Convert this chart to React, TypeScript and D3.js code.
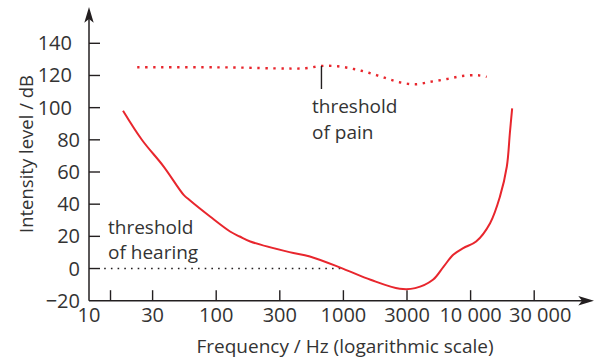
import React from "react";
import * as d3 from "d3";

// ---- data ----
const xTickValues = [10, 30, 100, 300, 1000, 3000, 10000, 30000];
const xTickLabels = ["10", "30", "100", "300", "1000", "3000", "10 000", "30 000"];
const xMinorTicks = [14.5];
const yTickValues = [0, 20, 40, 60, 80, 100, 120, 140];
const yTickLabels = ["0", "20", "40", "60", "80", "100", "120", "140"];
const yAxisMin = -20;
const yAxisMinLabel = "\u221220";

// threshold of hearing (Hz, dB)
const hearingFreq = [18, 25, 37, 54, 60, 89, 127, 150, 180, 360, 530, 1000, 1600, 2650, 3500, 4900, 6000, 7200, 8700, 11000, 14000, 16600, 18700, 19700, 20500];
const hearingDb = [98.1, 79.9, 63.4, 45.8, 42.7, 32.3, 23.0, 19.9, 16.8, 10.2, 7.5, -0.2, -7.0, -12.6, -12.2, -7.0, 1.2, 8.5, 12.7, 16.8, 28.2, 44.7, 63.4, 84.1, 99.6];

// threshold of pain (Hz, dB)
const painFreq = [23, 127, 340, 490, 660, 900, 1200, 1550, 2030, 2630, 3490, 4700, 6400, 8550, 11400, 13200];
const painDb = [125.1, 125.0, 124.3, 124.5, 125.9, 125.7, 124.0, 121.7, 118.6, 115.8, 114.5, 116.1, 117.8, 119.7, 120.1, 119.1];

// 0 dB reference (Hz)
const zeroLineFreq = [13, 1000];
// pain marker
const painMarkFreq = 660;
const painMarkDb = [125.9, 111.6];

// ---- layout ----
const W = 596, H = 359;
const X0 = 89, STEP = 63.6;
const Y_BOTTOM = 300.7, Y_TOP = 43.3;
const RED = "#e8262d";
const INK = "#231f20";
const TEXT = "#333333";
const FONT = "'Open Sans', sans-serif";

const x = d3.scaleLinear()
  .domain(xTickValues.map((v) => Math.log10(v)))
  .range(xTickValues.map((_, i) => X0 + i * STEP));
const xf = (f: number) => x(Math.log10(f));
const y = d3.scaleLinear().domain([yAxisMin, 140]).range([Y_BOTTOM, Y_TOP]);

export default function App() {
  const line = d3.line<[number, number]>()
    .x((d) => xf(d[0]))
    .y((d) => y(d[1]))
    .curve(d3.curveCatmullRom.alpha(0.5));
  const hearing = line(hearingFreq.map((f, i) => [f, hearingDb[i]]) as [number, number][]) || "";
  const pain = line(painFreq.map((f, i) => [f, painDb[i]]) as [number, number][]) || "";

  return (
    <svg width={W} height={H} style={{ position: "absolute", left: 0, top: 0, background: "#fff" }} fontFamily={FONT}>
      {/* axes */}
      <line x1={X0} y1={Y_BOTTOM} x2={X0} y2={14} stroke={INK} strokeWidth={1.5} />
      <path d={`M${X0},7 L${X0 - 4.7},22.7 L${X0},19 L${X0 + 4.7},22.7 Z`} fill={INK} />
      <line x1={X0} y1={Y_BOTTOM} x2={588} y2={Y_BOTTOM} stroke={INK} strokeWidth={1.5} />
      <path d={`M594,${Y_BOTTOM} L578.3,${Y_BOTTOM - 4.7} L582,${Y_BOTTOM} L578.3,${Y_BOTTOM + 4.7} Z`} fill={INK} />

      {/* y ticks */}
      {yTickValues.map((v, i) => (
        <g key={"y" + v}>
          <line x1={X0} x2={X0 + 11} y1={y(v)} y2={y(v)} stroke={INK} strokeWidth={1.4} />
          <text x={v >= 100 ? 72 : 80} y={y(v) + 7} textAnchor="end" fontSize={20} fill={TEXT}>{yTickLabels[i]}</text>
        </g>
      ))}
      <text x={80} y={y(yAxisMin) + 7} textAnchor="end" fontSize={20} fill={TEXT}>{yAxisMinLabel}</text>

      {/* x ticks */}
      {xTickValues.map((v, i) => (
        <g key={"x" + v}>
          {i > 0 && <line x1={xf(v)} x2={xf(v)} y1={Y_BOTTOM} y2={Y_BOTTOM - 10.5} stroke={INK} strokeWidth={1.4} />}
          <text x={xf(v) + (i === xTickValues.length - 1 ? 6 : 0)} y={322} textAnchor="middle" fontSize={20} fill={TEXT}>{xTickLabels[i]}</text>
        </g>
      ))}
      {xMinorTicks.map((v) => (
        <line key={"m" + v} x1={xf(v)} x2={xf(v)} y1={Y_BOTTOM} y2={Y_BOTTOM - 10.5} stroke={INK} strokeWidth={1.4} />
      ))}

      {/* axis titles */}
      <text x={345} y={353} textAnchor="middle" fontSize={19} fill={TEXT}>Frequency / Hz (logarithmic scale)</text>
      <text transform={`translate(33,154) rotate(-90)`} textAnchor="middle" fontSize={18.5} fill={TEXT}>Intensity level / dB</text>

      {/* 0 dB dotted line */}
      <line x1={xf(zeroLineFreq[0])} x2={xf(zeroLineFreq[1])} y1={y(0)} y2={y(0)} stroke={INK} strokeWidth={1.4} strokeDasharray="1.6,5.1" />

      {/* curves */}
      <path d={pain} fill="none" stroke={RED} strokeWidth={2.4} strokeDasharray="2.4,5.6" />
      <path d={hearing} fill="none" stroke={RED} strokeWidth={2} />

      {/* pain marker */}
      <line x1={xf(painMarkFreq)} x2={xf(painMarkFreq)} y1={y(painMarkDb[0])} y2={y(painMarkDb[1])} stroke={INK} strokeWidth={1.4} />

      {/* annotations */}
      <text x={312} y={113} fontSize={19} fill={TEXT}>threshold</text>
      <text x={312} y={139} fontSize={19} fill={TEXT}>of pain</text>
      <text x={108} y={234} fontSize={19} fill={TEXT}>threshold</text>
      <text x={108} y={259} fontSize={19} fill={TEXT}>of hearing</text>
    </svg>
  );
}
